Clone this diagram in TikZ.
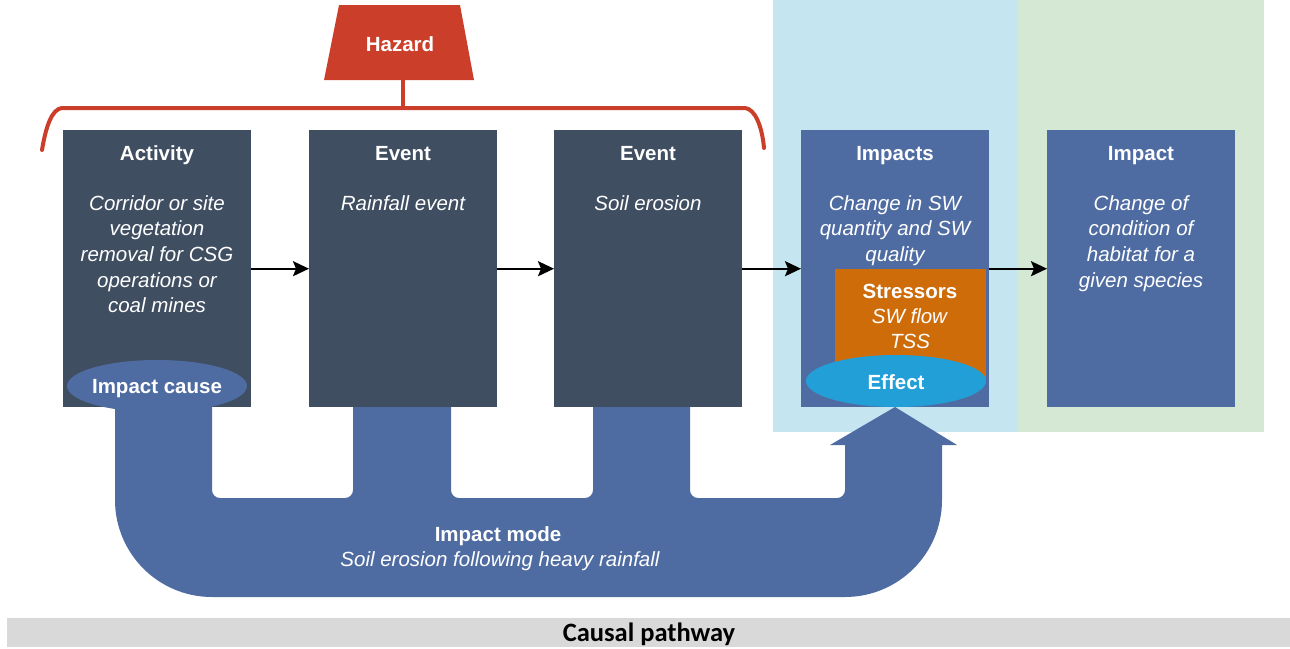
\documentclass[tikz,border=0pt]{standalone}
\usepackage{fontspec}
\setmainfont{Liberation Sans}
\newfontfamily\calib{Carlito}
\usetikzlibrary{arrows.meta,shapes.geometric}
\definecolor{slate}{HTML}{404E62}
\definecolor{bluebox}{HTML}{4F6CA2}
\definecolor{hazred}{HTML}{CB3F2A}
\definecolor{orng}{HTML}{CF6C0A}
\definecolor{effblue}{HTML}{239FD8}
\definecolor{lblue}{HTML}{C5E5F1}
\definecolor{lgreen}{HTML}{D5E8D4}
\definecolor{barg}{HTML}{D9D9D9}
\begin{document}
\begin{tikzpicture}[x=1pt,y=-1pt,
  box/.style={rectangle, minimum width=188pt, minimum height=277pt, inner sep=0pt, anchor=north west},
  ttl/.style={text=white, font=\fontsize{20.5}{24}\selectfont\bfseries, anchor=base, inner sep=0pt},
  body/.style={text=white, font=\fontsize{20.5}{25.7}\selectfont\itshape, align=center, anchor=north, inner sep=0pt},
  arr/.style={-{Stealth[length=16pt,width=15pt,inset=3pt]}, line width=2.2pt, black},
  oval/.style={ellipse, minimum width=180pt, minimum height=52pt, inner sep=0pt},
  redline/.style={hazred, line width=4pt}
]
\useasboundingbox (0,0) rectangle (1290,648);
% backgrounds
\fill[lblue] (773,0) rectangle (1018,432);
\fill[lgreen] (1018,0) rectangle (1264,432);
\node[fill=barg, minimum width=1283pt, minimum height=29pt, inner sep=0pt, anchor=north west] (bar) at (7,618) {};
\node[font=\calib\fontsize{26.5}{30}\selectfont\bfseries, anchor=base, inner sep=0pt] (bartxt) at (649,641.5) {Causal pathway};
% impact mode U arrow
\fill[bluebox] (115,400) -- (115,500) arc[start angle=180,end angle=90,radius=97]
  -- (845,597) arc[start angle=90,end angle=0,radius=97]
  -- (942,445) -- (957,445) -- (895,407) -- (830,445) -- (845,445)
  -- (845,490) arc[start angle=0,end angle=90,radius=8]
  -- (698,498) arc[start angle=90,end angle=180,radius=8]
  -- (690,400) -- (593,400)
  -- (593,490) arc[start angle=0,end angle=90,radius=8]
  -- (459,498) arc[start angle=90,end angle=180,radius=8]
  -- (451,400) -- (353,400)
  -- (353,490) arc[start angle=0,end angle=90,radius=8]
  -- (220,498) arc[start angle=90,end angle=180,radius=8]
  -- (212,400) -- cycle;
\node[ttl] (mode) at (498,541) {Impact mode};
\node[ttl, font=\fontsize{20.5}{24}\selectfont\itshape] (modetxt) at (500,566) {Soil erosion following heavy rainfall};
% hazard
\fill[hazred] (339,5) -- (460,5) -- (474,80) -- (324,80) -- cycle;
\node[ttl] (haz) at (400,51.5) {Hazard};
\coordinate (hazb) at (403,80);
\coordinate (brk) at (403,108);
\draw[redline] (hazb) -- (brk);
\draw[redline, line cap=round] (42,150) .. controls (46,126) and (52,109) .. (62,108) -- (745,108) .. controls (755,109) and (762,126) .. (764,148);
% boxes
\node[box, fill=slate] (act) at (63,130) {};
\node[box, fill=slate] (ev1) at (309,130) {};
\node[box, fill=slate] (ev2) at (554,130) {};
\node[box, fill=bluebox] (imps) at (801,130) {};
\node[box, fill=bluebox] (imp) at (1047,130) {};
% stressors and ovals
\fill[orng] (835,269) rectangle (986,380);
\node[body, font=\fontsize{20.5}{25}\selectfont] (str) at (910,284) {\textbf{Stressors}\\\textit{SW flow}\\\textit{TSS}};
\node[oval, fill=effblue] (eff) at (896,381) {};
\node[ttl] (efft) at (896,389) {Effect};
\node[oval, fill=bluebox] (cause) at (157,386) {};
\node[ttl] (causet) at (157,393) {Impact cause};
% titles
\node[ttl] (t1) at (157,160) {Activity};
\node[ttl] (t2) at (403,160) {Event};
\node[ttl] (t3) at (648,160) {Event};
\node[ttl] (t4) at (895,160) {Impacts};
\node[ttl] (t5) at (1141,160) {Impact};
% bodies
\node[body] (b1) at (157,195) {Corridor or site\\vegetation\\removal for CSG\\operations or\\coal mines};
\node[body] (b2) at (403,195) {Rainfall event};
\node[body] (b3) at (648,195) {Soil erosion};
\node[body] (b4) at (895,195) {Change in SW\\quantity and SW\\quality};
\node[body] (b5) at (1141,195) {Change of\\condition of\\habitat for a\\given species};
% arrows
\draw[arr] (act.east) -- (ev1.west);
\draw[arr] (ev1.east) -- (ev2.west);
\draw[arr] (ev2.east) -- (imps.west);
\draw[arr] (imps.east) -- (imp.west);
\end{tikzpicture}
\end{document}
